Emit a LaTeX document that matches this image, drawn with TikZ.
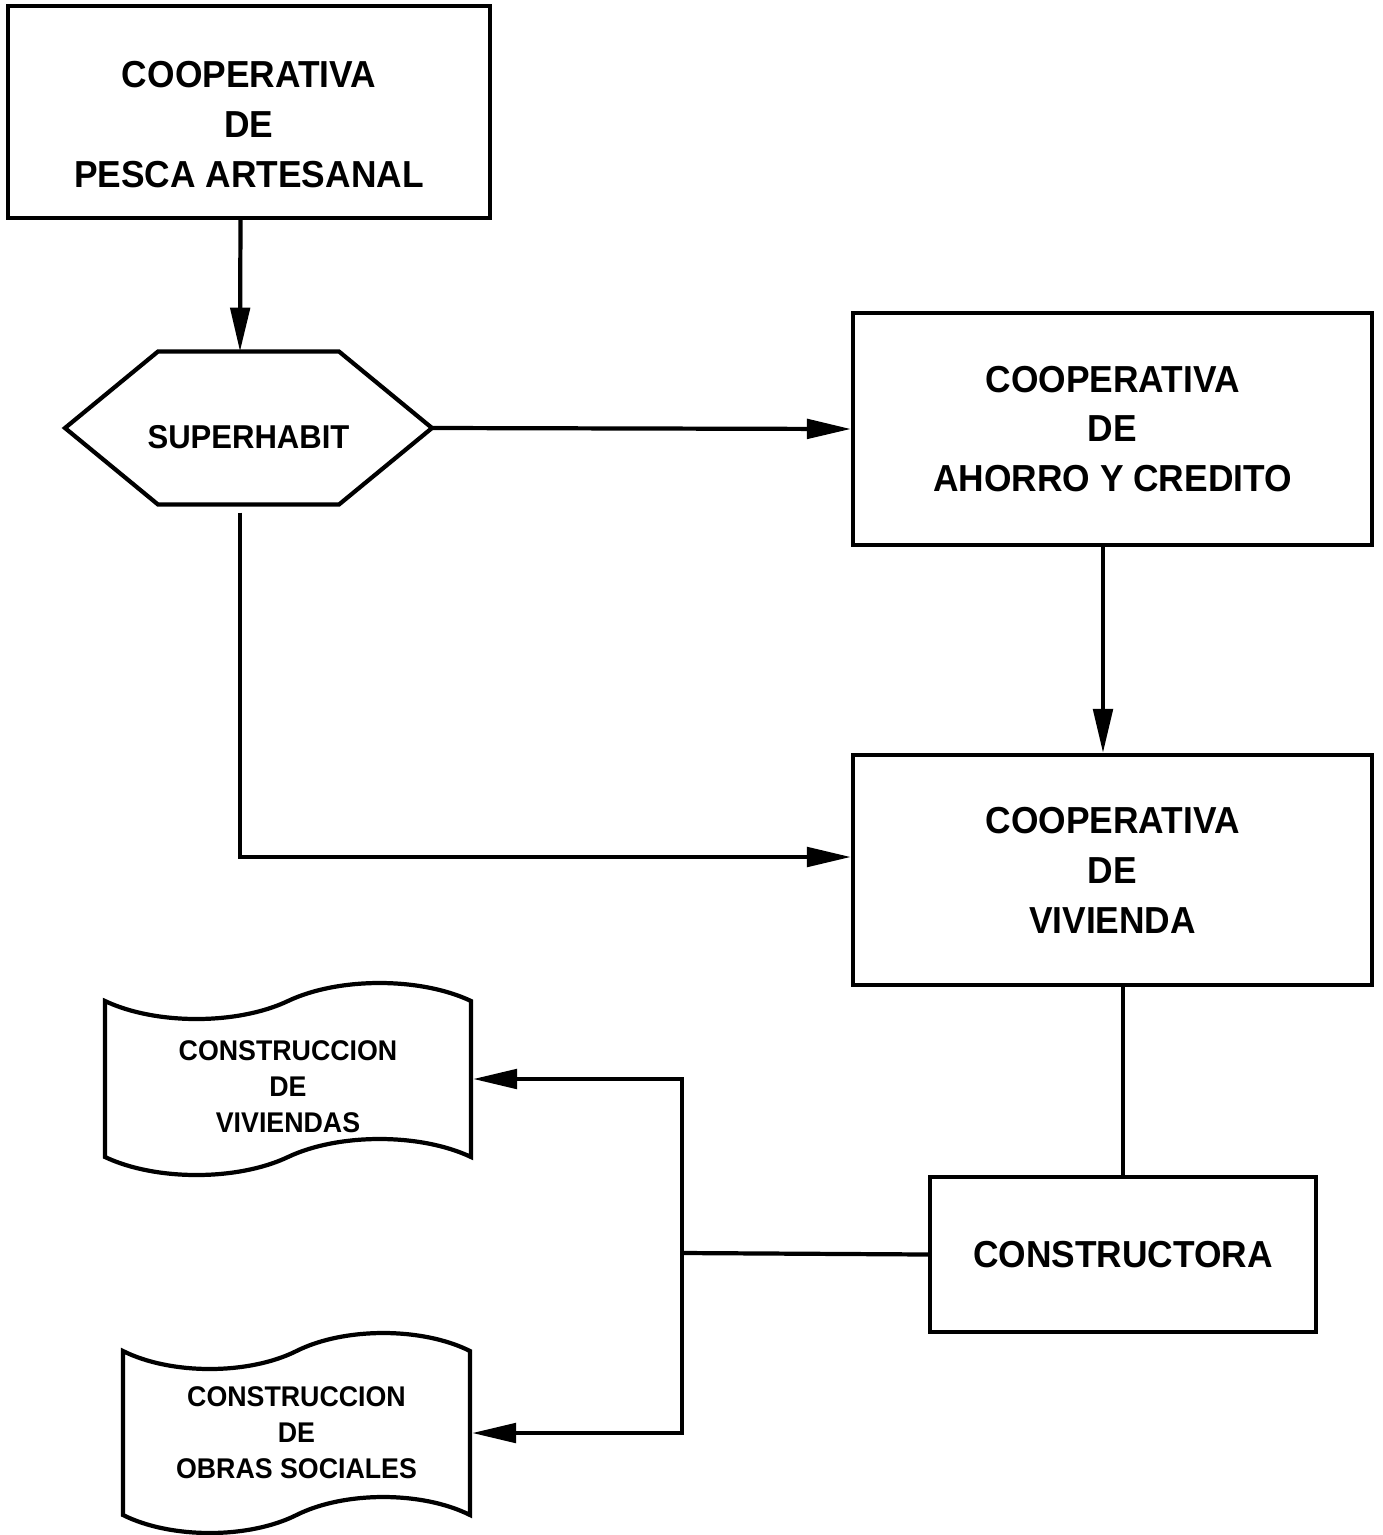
\documentclass[tikz,border=0pt]{standalone}
\usepackage{fontspec}
\setmainfont{Liberation Sans}[FakeStretch=0.94]
\usetikzlibrary{arrows.meta, positioning, shapes.symbols}

\newcommand{\lowtext}[1]{\rule{0pt}{#1}}

\begin{document}
\begin{tikzpicture}[line width=1.2pt,
    box/.style={draw, minimum width=5.19cm, minimum height=2.3cm, align=center,
        font=\fontsize{10.7}{14.2}\selectfont\bfseries},
    hexbox/.style={minimum width=3.67cm, minimum height=1.53cm, inner sep=0pt, outer sep=0pt,
        font=\fontsize{9.4}{12}\selectfont\bfseries},
    scroll/.style={draw, tape, tape bend height=0.36cm, minimum width=3.66cm,
        minimum height=1.92cm, inner ysep=0.5pt, align=center,
        font=\fontsize{8.1}{10.2}\selectfont\bfseries},
    arrow/.style={-{Triangle[length=12.5pt, width=5.5pt]}}]
    \useasboundingbox (0,0) rectangle (13.83,-15.35);

    % Cooperatives
    \node[box, minimum width=4.82cm, minimum height=2.12cm] (pesca) at (2.49,-1.12)
        {\lowtext{0.51cm}COOPERATIVA\\DE\\PESCA ARTESANAL};
    \node[hexbox] (sup) at (2.485,-4.28) {\lowtext{0.42cm}SUPERHABIT};
    \draw (sup.west) -- ([xshift=0.93cm]sup.north west) -- ([xshift=-0.93cm]sup.north east)
        -- (sup.east) -- ([xshift=-0.93cm]sup.south east) -- ([xshift=0.93cm]sup.south west)
        -- cycle;
    \node[box, minimum height=2.32cm] (ahorro) at (11.125,-4.29)
        {COOPERATIVA\\DE\\AHORRO Y CREDITO};
    \node[box] (vivienda) at (11.125,-8.70) {COOPERATIVA\\DE\\VIVIENDA};
    \node[box, minimum width=3.86cm, minimum height=1.55cm] (constr) at (11.23,-12.545)
        {CONSTRUCTORA};

    % Works
    \node[scroll] (obras1) at (2.88,-10.79) {\lowtext{0.35cm}CONSTRUCCION\\DE\\VIVIENDAS};
    \node[scroll, minimum width=3.47cm, minimum height=2.0cm] (obras2) at (2.965,-14.33)
        {CONSTRUCCION\\DE\\OBRAS SOCIALES};
    \coordinate (split) at (6.82,-12.53);
    \coordinate (sup-low) at ([xshift=-0.85mm, yshift=-0.8mm]sup.south);

    % Flow
    \draw[arrow] ([xshift=-0.85mm]pesca.south) -- ([xshift=-0.85mm]sup.north);
    \draw[arrow] (sup.east) -- (ahorro.west);
    \draw[arrow] ([xshift=-0.95mm]ahorro.south) -- ([xshift=-0.95mm]vivienda.north);
    \draw[arrow] (sup-low) |- ([yshift=1.3mm]vivienda.west);
    \draw (vivienda.south -| constr.north) -- (constr.north);
    \draw (constr.west) -- (split);
    \draw[arrow] (split) |- (obras1.east);
    \draw[arrow] (split) |- (obras2.east);
\end{tikzpicture}
\end{document}
